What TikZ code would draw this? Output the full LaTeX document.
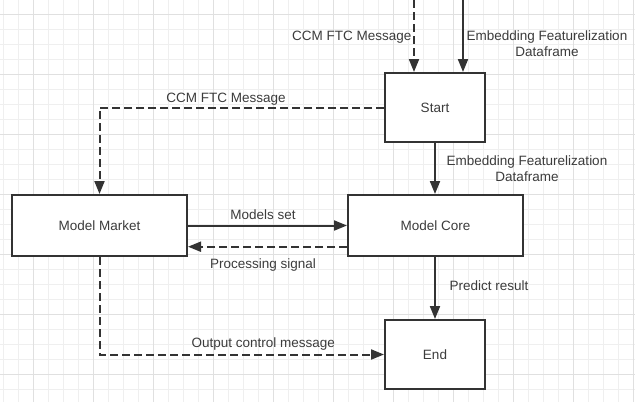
\documentclass[tikz,border=0pt]{standalone}
\usepackage{fontspec}
\setmainfont{Liberation Sans}
\usetikzlibrary{arrows.meta}
\definecolor{ink}{HTML}{333333}
\definecolor{txt}{HTML}{3C3C3C}
\definecolor{gminor}{HTML}{EFEFEF}
\definecolor{gmajor}{HTML}{E0E0E0}
\tikzset{
  box/.style={draw=ink, line width=2pt, fill=white, minimum width=#1, inner sep=0pt, text=txt, font=\fontsize{13.5}{16}\selectfont},
  lbl/.style={inner sep=0pt, text=txt, font=\fontsize{13.5}{16}\selectfont, align=center},
  conn/.style={draw=ink, line width=2pt, -{Triangle[length=13pt,width=10pt]}},
  dconn/.style={conn, dash pattern=on 8pt off 4pt},
}
\begin{document}
\begin{tikzpicture}[x=1pt,y=-1pt]
\useasboundingbox (0,0) rectangle (635,402);
\fill[white] (0,0) rectangle (635,402);
% grid
\foreach \i in {0,...,42} {\draw[gminor, line width=1pt] (3.3+15*\i,0) -- (3.3+15*\i,402);}
\foreach \i in {0,...,26} {\draw[gminor, line width=1pt] (0,14.3+15*\i) -- (635,14.3+15*\i);}
\foreach \i in {-1,0,...,10} {\draw[gmajor, line width=1pt] (33.3+60*\i,0) -- (33.3+60*\i,402);}
\foreach \i in {0,...,6} {\draw[gmajor, line width=1pt] (0,14.3+60*\i) -- (635,14.3+60*\i);}

% nodes
\node[box=100pt, minimum height=69pt] (start) at (435,107.5) {Start};
\node[box=175pt, minimum height=61pt] (core) at (435.5,225.5) {Model Core};
\node[box=175pt, minimum height=61pt] (market) at (99.5,225.5) {Model Market};
\node[box=100pt, minimum height=69pt] (end) at (435,354.5) {End};

% free ends
\coordinate (in1) at (414,0);
\coordinate (in2) at (463,0);

% connectors
\draw[dconn] (in1) -- (in1 |- start.north);
\draw[conn] (in2) -- (in2 |- start.north);
\draw[dconn] (start.west) -| (market.north);
\draw[conn] (start.south) -- (start.south |- core.north);
\draw[conn] (market.east) -- (core.west);
\draw[dconn] ([yshift=-21.2pt]core.west) -- ([yshift=-21.2pt]market.east);
\draw[conn] (core.south -| end.north) -- (end.north);
\draw[dconn] (market.south) |- (end.west);

% labels
\node[lbl, anchor=base east] (l1) at (411.5,40) {CCM FTC Message};
\node[lbl] (l2) at (547,43.8) {Embedding Featurelization\\Dataframe};
\node[lbl, anchor=base] (l3) at (226,102) {CCM FTC Message};
\node[lbl] (l4) at (527,169) {Embedding Featurelization\\Dataframe};
\node[lbl, anchor=base] (l5) at (263,219.3) {Models set};
\node[lbl, anchor=base] (l6) at (263,268.5) {Processing signal};
\node[lbl, anchor=base west] (l7) at (449.3,290) {Predict result};
\node[lbl, anchor=base] (l8) at (263.3,347.3) {Output control message};
\end{tikzpicture}
\end{document}
